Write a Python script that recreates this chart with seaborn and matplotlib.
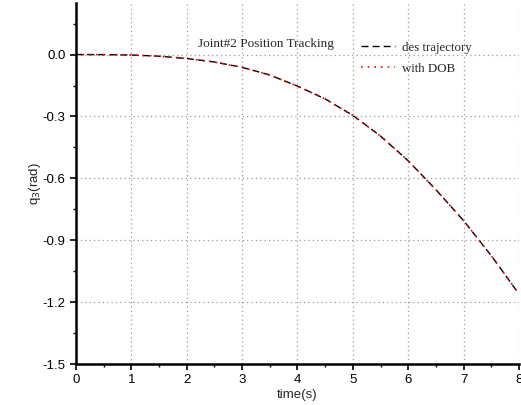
import matplotlib
matplotlib.use("Agg")
import matplotlib.pyplot as plt
import seaborn as sns
import pandas as pd
from matplotlib.ticker import MultipleLocator

time_s = [0, 0.5, 1, 1.5, 2, 2.5, 3, 3.5, 4, 4.5, 5, 5.5, 6, 6.5, 7, 7.5, 8]
des_traj = [0.0, -0.0003, -0.002, -0.008, -0.019, -0.036, -0.062, -0.099, -0.153,
            -0.215, -0.295, -0.395, -0.515, -0.655, -0.805, -0.975, -1.16]
with_dob = [0.0, -0.0003, -0.002, -0.008, -0.019, -0.036, -0.062, -0.099, -0.153,
            -0.215, -0.295, -0.395, -0.515, -0.655, -0.805, -0.975, -1.16]
x_ticks = [0, 1, 2, 3, 4, 5, 6, 7, 8]
y_ticks = [0.0, -0.3, -0.6, -0.9, -1.2, -1.5]

sns.set_theme(style="white")
plt.rcParams['font.family'] = ['Liberation Sans', 'DejaVu Sans']

df = pd.DataFrame({"t": time_s, "des": des_traj, "dob": with_dob})

fig = plt.figure(figsize=(5.21, 4.05), dpi=100)
ax = fig.add_axes([0.1459, 0.1012, 0.8502, 0.8914])

sns.lineplot(data=df, x="t", y="des", ax=ax, color="black", linestyle=(0, (5, 3)),
             linewidth=1.0, label="des trajectory")
sns.lineplot(data=df, x="t", y="dob", ax=ax, color="red", linestyle=(0, (1, 3)),
             linewidth=1.2, label="with DOB")

ax.set_xlim(0, 8)
ax.set_ylim(-1.5, 0.25)
ax.set_xticks(x_ticks)
ax.set_yticks(y_ticks)
ax.set_yticklabels([f"{v:.1f}" for v in y_ticks])
ax.xaxis.set_minor_locator(MultipleLocator(0.5))
ax.yaxis.set_minor_locator(MultipleLocator(0.15))
ax.tick_params(axis="both", which="major", direction="out", length=4, width=1.2,
               labelsize=9.5, color="black", labelcolor="black", bottom=True, left=True)
ax.tick_params(axis="both", which="minor", direction="out", length=2.5, width=1.0,
               color="black", bottom=True, left=True)
ax.grid(True, which="major", linestyle=(0, (1, 2.5)), color="#a09898", linewidth=0.9)
for side in ["top", "right"]:
    ax.spines[side].set_visible(False)
for side in ["left", "bottom"]:
    ax.spines[side].set_color("black")
    ax.spines[side].set_linewidth(1.8)

ax.set_xlabel("time(s)", fontsize=9.5, labelpad=2)
ax.set_ylabel("q$_3$(rad)", fontsize=9.5, labelpad=0)

ax.text(0.275, 0.886, "Joint#2 Position Tracking", transform=ax.transAxes,
        family=["Liberation Serif"], fontsize=9.5, va="center", ha="left")
leg = ax.legend(loc="upper left", bbox_to_anchor=(0.617, 0.925), frameon=False,
                prop={"family": "Liberation Serif", "size": 9.3},
                handlelength=2.6, handletextpad=0.6, labelspacing=0.7)

fig.savefig("out.png", dpi=100)
